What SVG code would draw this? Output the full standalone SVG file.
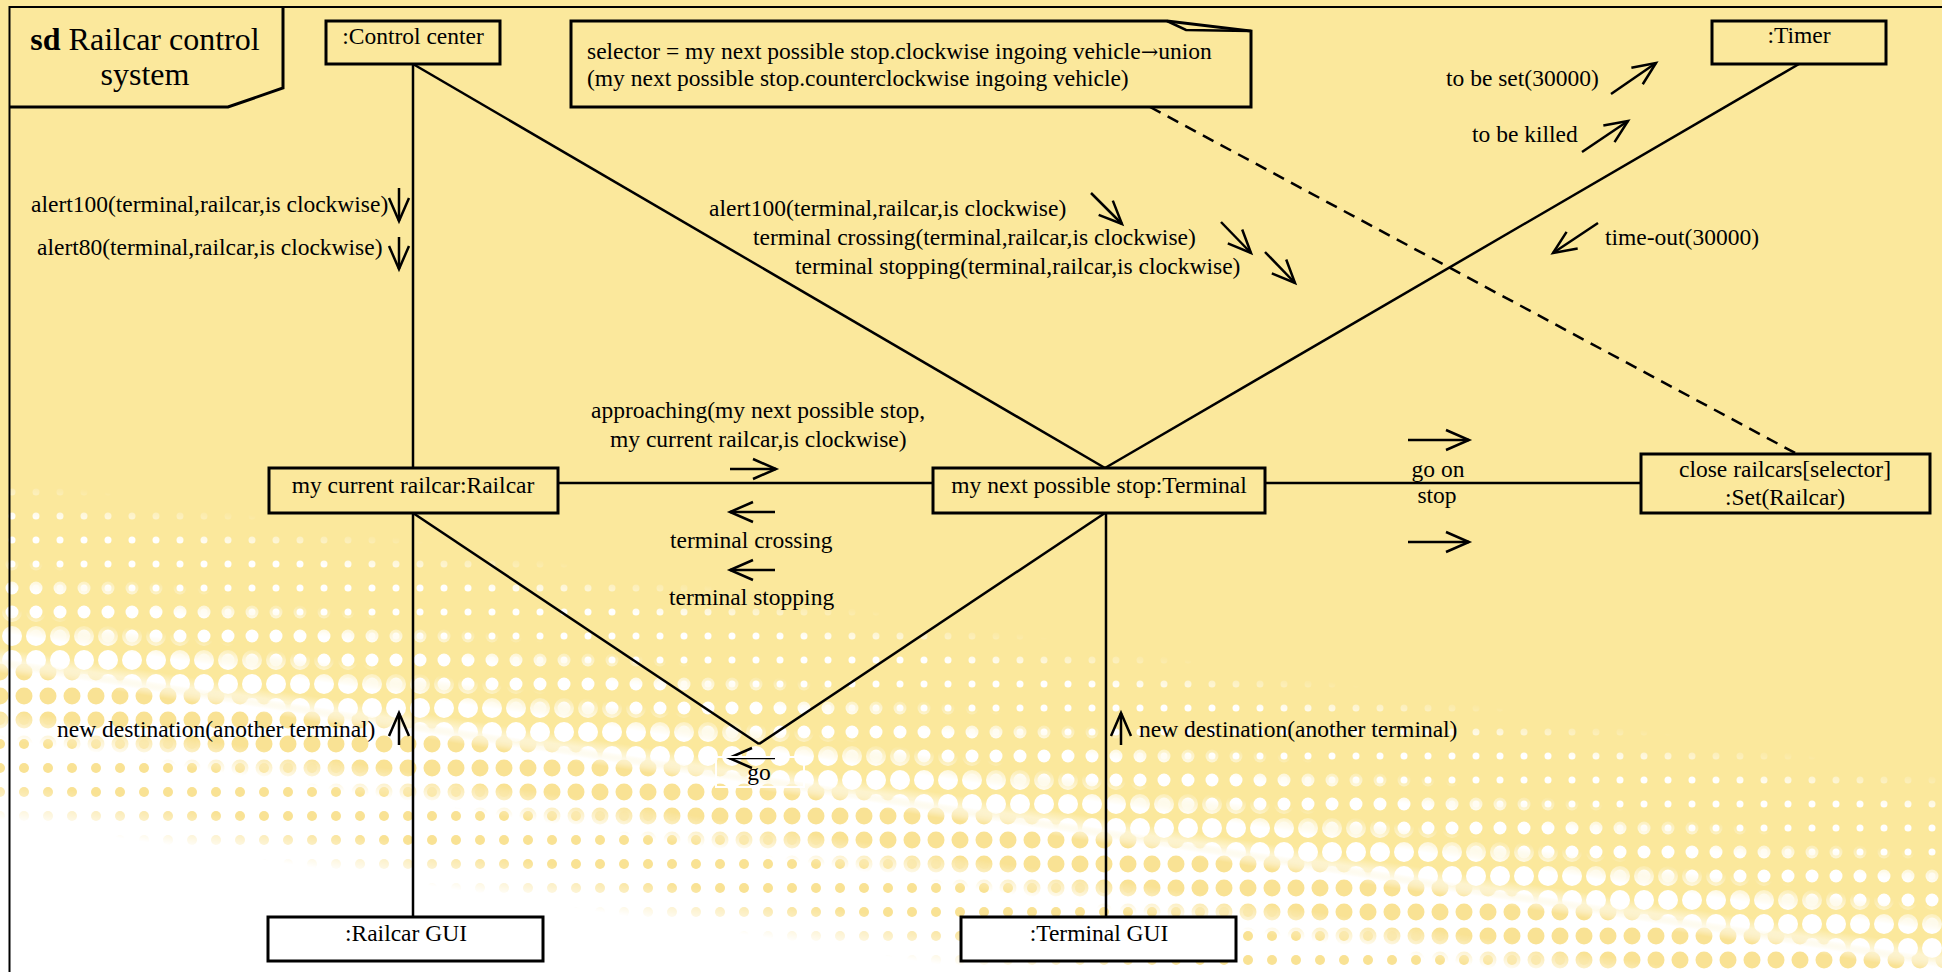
<svg xmlns="http://www.w3.org/2000/svg" width="1942" height="972" viewBox="0 0 1942 972">
<style>
text{font-family:"Liberation Serif","DejaVu Serif","Times New Roman",serif;font-size:23.5px;fill:#000}
.box{fill:none;stroke:#000;stroke-width:3}
.gui{fill:#fff;stroke:#000;stroke-width:3}
.lk{fill:none;stroke:#000;stroke-width:2.5}
.dash{fill:none;stroke:#000;stroke-width:2.5;stroke-dasharray:12 8}
.msg{fill:none;stroke:#000;stroke-width:2.5;marker-end:url(#ah)}
.mid{text-anchor:middle}
</style>
<defs>
<marker id="ah" markerUnits="userSpaceOnUse" viewBox="-27 -13 30 26" markerWidth="30" markerHeight="26" refX="0" refY="0" orient="auto" overflow="visible">
<path d="M-23,-10 L0,0 L-23,10" fill="none" stroke="#000" stroke-width="2.5"/>
</marker>
<pattern id="wd1" width="24" height="24" patternUnits="userSpaceOnUse"><circle cx="12" cy="12" r="3.5" fill="#fff"/></pattern>
<pattern id="wd2" width="24" height="24" patternUnits="userSpaceOnUse"><circle cx="12" cy="12" r="6.5" fill="#fff"/></pattern>
<pattern id="wd3" width="24" height="24" patternUnits="userSpaceOnUse"><circle cx="12" cy="12" r="10" fill="#fff"/></pattern>
<pattern id="yd1" width="24" height="24" patternUnits="userSpaceOnUse"><circle cx="0" cy="0" r="8.5" fill="#f9e294"/><circle cx="24" cy="0" r="8.5" fill="#f9e294"/><circle cx="0" cy="24" r="8.5" fill="#f9e294"/><circle cx="24" cy="24" r="8.5" fill="#f9e294"/></pattern>
<pattern id="yd2" width="24" height="24" patternUnits="userSpaceOnUse"><circle cx="0" cy="0" r="5" fill="#f9e294"/><circle cx="24" cy="0" r="5" fill="#f9e294"/><circle cx="0" cy="24" r="5" fill="#f9e294"/><circle cx="24" cy="24" r="5" fill="#f9e294"/></pattern>
<linearGradient id="g1" gradientUnits="userSpaceOnUse" x1="-69" y1="445" x2="-130" y2="840"><stop offset="0.05" stop-color="#000"/><stop offset="0.15" stop-color="#fff"/><stop offset="0.275" stop-color="#fff"/><stop offset="0.3375" stop-color="#000"/></linearGradient>
<linearGradient id="g2" gradientUnits="userSpaceOnUse" x1="-69" y1="445" x2="-130" y2="840"><stop offset="0.25" stop-color="#000"/><stop offset="0.325" stop-color="#fff"/><stop offset="0.3875" stop-color="#fff"/><stop offset="0.4375" stop-color="#000"/></linearGradient>
<linearGradient id="g3" gradientUnits="userSpaceOnUse" x1="-69" y1="445" x2="-130" y2="840"><stop offset="0.375" stop-color="#000"/><stop offset="0.4375" stop-color="#fff"/><stop offset="0.5" stop-color="#fff"/><stop offset="0.52" stop-color="#000"/></linearGradient>
<linearGradient id="gw" gradientUnits="userSpaceOnUse" x1="-69" y1="445" x2="-130" y2="840"><stop offset="0.475" stop-color="#fff" stop-opacity="0"/><stop offset="0.525" stop-color="#fff" stop-opacity="1"/></linearGradient>
<linearGradient id="gy1" gradientUnits="userSpaceOnUse" x1="-69" y1="445" x2="-130" y2="840"><stop offset="0.5" stop-color="#000"/><stop offset="0.5375" stop-color="#fff"/><stop offset="0.625" stop-color="#fff"/><stop offset="0.7" stop-color="#000"/></linearGradient>
<linearGradient id="gy2" gradientUnits="userSpaceOnUse" x1="-69" y1="445" x2="-130" y2="840"><stop offset="0.625" stop-color="#000"/><stop offset="0.7" stop-color="#fff"/><stop offset="0.8" stop-color="#fff"/><stop offset="0.9" stop-color="#000"/></linearGradient>
<mask id="m1" maskUnits="userSpaceOnUse" x="0" y="0" width="1942" height="972"><rect width="1942" height="972" fill="url(#g1)"/></mask>
<mask id="m2" maskUnits="userSpaceOnUse" x="0" y="0" width="1942" height="972"><rect width="1942" height="972" fill="url(#g2)"/></mask>
<mask id="m3" maskUnits="userSpaceOnUse" x="0" y="0" width="1942" height="972"><rect width="1942" height="972" fill="url(#g3)"/></mask>
<mask id="my1" maskUnits="userSpaceOnUse" x="0" y="0" width="1942" height="972"><rect width="1942" height="972" fill="url(#gy1)"/></mask>
<mask id="my2" maskUnits="userSpaceOnUse" x="0" y="0" width="1942" height="972"><rect width="1942" height="972" fill="url(#gy2)"/></mask>
</defs>

<g id="background">
<rect width="1942" height="972" fill="#fbe89c"/>
<rect width="1942" height="972" fill="url(#wd1)" mask="url(#m1)"/>
<rect width="1942" height="972" fill="url(#wd2)" mask="url(#m2)"/>
<rect width="1942" height="972" fill="url(#wd3)" mask="url(#m3)"/>
<rect width="1942" height="972" fill="url(#gw)"/>
<rect width="1942" height="972" fill="url(#yd1)" mask="url(#my1)"/>
<rect width="1942" height="972" fill="url(#yd2)" mask="url(#my2)"/>
</g>

<g id="frame">
<path d="M9.5,972 L9.5,7 L1942,7" fill="none" stroke="#000" stroke-width="2"/>
<path d="M9.5,107 L228,107 L283,88 L283,7" fill="none" stroke="#000" stroke-width="3"/>
<text class="mid" x="145" y="50" style="font-size:32px"><tspan font-weight="bold">sd</tspan> Railcar control</text>
<text class="mid" x="145" y="85" style="font-size:32px">system</text>
</g>

<g id="connectors">
<line class="lk" x1="413" y1="64" x2="413" y2="468"/>
<line class="lk" x1="413" y1="64" x2="1105" y2="468"/>
<line class="lk" x1="1799" y1="64" x2="1105" y2="468"/>
<line class="lk" x1="558" y1="483" x2="933" y2="483"/>
<line class="lk" x1="1265" y1="483" x2="1641" y2="483"/>
<line class="dash" x1="1150" y1="107" x2="1797" y2="454"/>
<line class="lk" x1="413" y1="513" x2="413" y2="917"/>
<line class="lk" x1="1106" y1="513" x2="1106" y2="917"/>
<line class="lk" x1="413" y1="513" x2="759" y2="744"/>
<line class="lk" x1="1105" y1="513" x2="759" y2="744"/>
</g>

<g id="messages">
<path class="msg" d="M399,188 L399,221"/>
<path class="msg" d="M399,237 L399,269"/>
<path class="msg" d="M1091,193 L1122,224"/>
<path class="msg" d="M1221,222 L1251,253"/>
<path class="msg" d="M1265,252 L1295,283"/>
<path class="msg" d="M1611,94 L1656,63"/>
<path class="msg" d="M1582,152 L1628,121"/>
<path class="msg" d="M1598,223 L1553,253"/>
<path class="msg" d="M730,469 L776,469"/>
<path class="msg" d="M775,512 L730,512"/>
<path class="msg" d="M775,570 L730,570"/>
<path class="msg" d="M775,758 L729,758"/>
<path class="msg" d="M1408,440 L1469,440"/>
<path class="msg" d="M1408,542 L1469,542"/>
<path class="msg" d="M399,745 L399,713"/>
<path class="msg" d="M1121,745 L1121,713"/>
<text x="31" y="212">alert100(terminal,railcar,is clockwise)</text>
<text x="37" y="255">alert80(terminal,railcar,is clockwise)</text>
<text x="709" y="216">alert100(terminal,railcar,is clockwise)</text>
<text x="753" y="245">terminal crossing(terminal,railcar,is clockwise)</text>
<text x="795" y="274">terminal stopping(terminal,railcar,is clockwise)</text>
<text x="1446" y="86">to be set(30000)</text>
<text x="1472" y="142">to be killed</text>
<text x="1605" y="245">time-out(30000)</text>
<text x="591" y="418">approaching(my next possible stop,</text>
<text x="610" y="447">my current railcar,is clockwise)</text>
<text x="670" y="548">terminal crossing</text>
<text x="669" y="605">terminal stopping</text>
<text class="mid" x="1438" y="477">go on</text>
<text class="mid" x="1437" y="503">stop</text>
<rect x="716" y="757" width="88" height="30" fill="none" stroke="#fff" stroke-width="2"/>
<text class="mid" x="759" y="780">go</text>
<text x="57" y="737">new destination(another terminal)</text>
<text x="1139" y="737">new destination(another terminal)</text>
</g>

<g id="control-center">
<rect class="box" x="326" y="21" width="174" height="43"/>
<text class="mid" x="413" y="44">:Control center</text>
</g>
<g id="note">
<path d="M571,21 L1167,21 L1251,31 L1251,107 L571,107 Z" fill="none" stroke="#000" stroke-width="3"/>
<path d="M1167,21 L1186,30 L1251,31" fill="none" stroke="#000" stroke-width="2.5"/>
<text x="587" y="59">selector = my next possible stop.clockwise ingoing vehicle<tspan style="font-family:'DejaVu Serif','DejaVu Sans',serif;font-size:21px">→</tspan>union</text>
<text x="587" y="86">(my next possible stop.counterclockwise ingoing vehicle)</text>
</g>
<g id="timer">
<rect class="box" x="1712" y="21" width="174" height="43"/>
<text class="mid" x="1799" y="43">:Timer</text>
</g>
<g id="railcar">
<rect class="box" x="269" y="468" width="289" height="45"/>
<text class="mid" x="413" y="493">my current railcar:Railcar</text>
</g>
<g id="terminal">
<rect class="box" x="933" y="468" width="332" height="45"/>
<text class="mid" x="1099" y="493">my next possible stop:Terminal</text>
</g>
<g id="close-railcars">
<rect class="box" x="1641" y="454" width="289" height="59"/>
<text class="mid" x="1785" y="477">close railcars[selector]</text>
<text class="mid" x="1785" y="505">:Set(Railcar)</text>
</g>
<g id="railcar-gui">
<rect class="gui" x="268" y="917" width="275" height="44"/>
<text class="mid" x="406" y="941">:Railcar GUI</text>
</g>
<g id="terminal-gui">
<rect class="gui" x="961" y="917" width="275" height="44"/>
<text class="mid" x="1099" y="941">:Terminal GUI</text>
</g>
</svg>
